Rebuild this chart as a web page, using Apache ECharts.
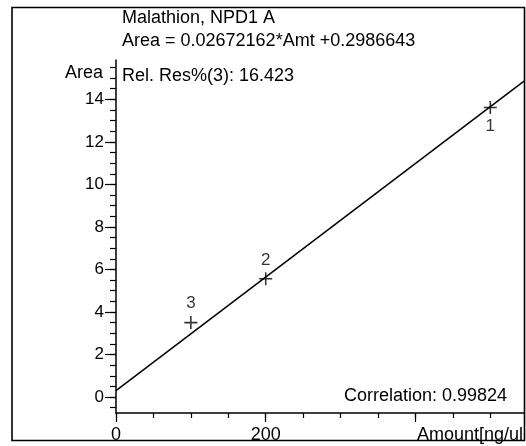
<!DOCTYPE html>
<html><head><meta charset="utf-8">
<script src="https://cdn.jsdelivr.net/npm/echarts@6/dist/echarts.min.js"></script>
<style>html,body{margin:0;padding:0;background:#fff}#c{width:526px;height:446px}</style>
</head><body><div id="c"></div>
<script>
// Calibration points
const pointLabels = ['1', '2', '3'];
const amounts = [500, 200, 100];
const areas = [13.62, 5.56, 3.50];
// Fitted line endpoints
const fitAmounts = [0, 545];
const fitAreas = [0.30, 14.86];
// Axis ticks
const yMajorTicks = [0, 2, 4, 6, 8, 10, 12, 14];
const yMinorTicks = [-0.5, 0, 0.5, 1, 1.5, 2, 2.5, 3, 3.5, 4, 4.5, 5, 5.5, 6, 6.5, 7, 7.5, 8, 8.5, 9, 9.5, 10, 10.5, 11, 11.5, 12, 12.5, 13, 13.5, 14, 14.5, 15, 15.5];
const xMajorTicks = [0, 200, 400];
const xMinorTicks = [0, 50, 100, 150, 200, 250, 300, 350, 400, 450, 500];
const xTickLabels = [0, 200];
const titleLines = ['Malathion, NPD1 A', 'Area = 0.02672162*Amt +0.2986643'];
const relResText = 'Rel. Res%(3): 16.423';
const corrText = 'Correlation: 0.99824';
const xName = 'Amount[ng/ul';
const yName = 'Area';

const FONT = '"Liberation Sans", Arial, sans-serif';
const chart = echarts.init(document.getElementById('c'), null, {renderer: 'canvas'});
const X_MIN = 0, X_MAX = 545, Y_MIN = -0.75, Y_MAX = 15.85;
const axisLine = {show: true, onZero: false, lineStyle: {color: '#000', width: 1.5}};

const option = {
  animation: false,
  backgroundColor: '#fff',
  textStyle: {fontFamily: FONT, color: '#000'},
  grid: {left: 116, right: 2, top: 60, bottom: 33, containLabel: false, outerBoundsMode: 'none'},
  xAxis: [
    {type: 'value', min: X_MIN, max: X_MAX, position: 'bottom',
     axisLine: axisLine,
     axisTick: {show: true, customValues: xMinorTicks, length: 5, lineStyle: {color: '#000', width: 1.2}},
     axisLabel: {show: true, customValues: xTickLabels, fontSize: 18, color: '#000', margin: 13, fontFamily: FONT},
     splitLine: {show: false}},
    {type: 'value', min: X_MIN, max: X_MAX, position: 'bottom',
     axisLine: {show: false, onZero: false},
     axisTick: {show: true, customValues: xMajorTicks, length: 9, lineStyle: {color: '#000', width: 1.2}},
     axisLabel: {show: false},
     splitLine: {show: false}}
  ],
  yAxis: [
    {type: 'value', min: Y_MIN, max: Y_MAX, position: 'left',
     name: yName, nameLocation: 'end', nameGap: -13,
     nameTextStyle: {fontSize: 18, color: '#000', align: 'right', verticalAlign: 'middle', padding: [0, 13, 0, 0], fontFamily: FONT},
     axisLine: axisLine,
     axisTick: {show: true, customValues: yMinorTicks, length: 6, lineStyle: {color: '#000', width: 1.2}},
     axisLabel: {show: false},
     splitLine: {show: false}},
    {type: 'value', min: Y_MIN, max: Y_MAX, position: 'left',
     axisLine: {show: false, onZero: false},
     axisTick: {show: true, customValues: yMajorTicks, length: 11, lineStyle: {color: '#000', width: 1.2}},
     axisLabel: {show: true, customValues: yMajorTicks, fontSize: 17, color: '#000', margin: 12, fontFamily: FONT},
     splitLine: {show: false}}
  ],
  series: [
    {type: 'line', xAxisIndex: 0, yAxisIndex: 0,
     data: fitAmounts.map((x, i) => [x, fitAreas[i]]),
     symbol: 'none', lineStyle: {color: '#000', width: 1.5}, clip: true, silent: true},
    {type: 'scatter', xAxisIndex: 0, yAxisIndex: 0,
     symbol: 'path://M0,4.4H10V5.6H0Z M4.4,0H5.6V10H4.4Z', symbolSize: 13,
     itemStyle: {color: '#000'},
     data: amounts.map((x, i) => ({
       value: [x, areas[i]], name: pointLabels[i],
       label: {position: i === 0 ? 'bottom' : 'top'}
     })),
     label: {show: true, formatter: p => p.name, fontSize: 17, color: '#000', distance: 4, fontFamily: FONT}}
  ],
  graphic: [
    {type: 'text', left: 122, top: 9, style: {text: titleLines[0], font: '18px ' + FONT, fill: '#000'}},
    {type: 'text', left: 122, top: 32, style: {text: titleLines[1], font: '18px ' + FONT, fill: '#000'}},
    {type: 'text', left: 122, top: 67, style: {text: relResText, font: '18px ' + FONT, fill: '#000'}},
    {type: 'text', right: 19, top: 387, style: {text: corrText, font: '18px ' + FONT, fill: '#000'}},
    {type: 'text', right: 3, top: 426, style: {text: xName, font: '18px ' + FONT, fill: '#000'}},
    {type: 'rect', shape: {x: 12, y: 7.5, width: 512.5, height: 433}, style: {fill: 'none', stroke: '#000', lineWidth: 1.6}, z: 100}
  ]
};
chart.setOption(option);
</script></body></html>
